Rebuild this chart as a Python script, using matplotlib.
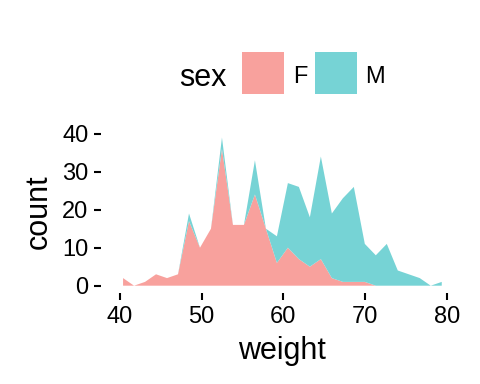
import numpy as np
import matplotlib
matplotlib.use("Agg")
import matplotlib.pyplot as plt
from matplotlib.patches import Rectangle

plt.rcParams['font.family'] = ['Liberation Sans', 'DejaVu Sans']

# binned counts of weight (30 bins), stacked by sex
bin_centers = np.linspace(40.4, 79.4, 30)
count_f = [2, 0, 1, 3, 2, 3, 17, 10, 15, 36, 16, 16, 24, 15, 6,
           10, 7, 5, 7, 2, 1, 1, 1, 0, 0, 0, 0, 0, 0, 0]
count_m = [0, 0, 0, 0, 0, 0, 2, 0, 0, 3, 0, 0, 9, 0, 7,
           17, 19, 13, 27, 17, 22, 25, 10, 8, 11, 4, 3, 2, 0, 1]
groups = ['F', 'M']
colors = ['#F8A19D', '#76D3D5']

W, H = 480, 384
fig = plt.figure(figsize=(4.8, 3.84), dpi=100)
ax = fig.add_axes([101 / W, 1 - 293.1 / H, 362.8 / W, 163 / H])

ax.stackplot(bin_centers, count_f, count_m, colors=colors, linewidth=0)

ax.set_xlim(37.7, 82.1)
ax.set_ylim(-1.95, 40.95)
ax.set_xticks([40, 50, 60, 70, 80])
ax.set_yticks([0, 10, 20, 30, 40])
for s in ax.spines.values():
    s.set_visible(False)
ax.tick_params(length=5, width=1.5, labelsize=17, pad=4, color='black')
ax.set_xlabel('weight', fontsize=22, labelpad=6)
ax.set_ylabel('count', fontsize=22, labelpad=6)

# legend on top
def fy(px):
    return 1 - px / H

fig.text(179 / W, fy(85.7), 'sex', fontsize=22, va='baseline', ha='left')
box_x = [242, 315]
label_x = [293, 365]
for bx, lx, g, c in zip(box_x, label_x, groups, colors):
    fig.add_artist(Rectangle((bx / W, fy(94)), 42 / W, 42 / H,
                             transform=fig.transFigure, facecolor=c,
                             edgecolor='none'))
    fig.text(lx / W, fy(83.3), g, fontsize=17, va='baseline', ha='left')

fig.savefig('out.png', dpi=100)
